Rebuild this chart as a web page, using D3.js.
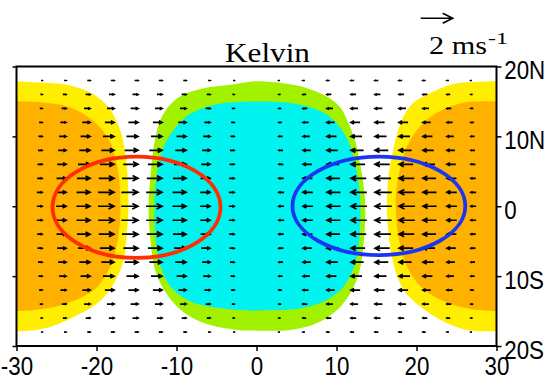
<!DOCTYPE html>
<html>
<head>
<meta charset="utf-8">
<script src="https://cdn.jsdelivr.net/npm/d3@7"></script>
<style>
  body { margin: 0; background: #fff; }
  svg { display: block; }
  .ax text { font-family: "Liberation Sans", Arial, sans-serif; font-size: 26px; fill: #000; }
  .ax line { stroke: #000; stroke-width: 1.5; }
  .ax path { display: none; }
</style>
</head>
<body>
<svg id="chart" width="552" height="382"></svg>
<script>
// grid of the wind field (deg)
const lons = [-27, -24, -21, -18, -15, -12, -9, -6, -3, 0, 3, 6, 9, 12, 15, 18, 21, 24, 27];
const lats = [18, 16, 14, 12, 10, 8, 6, 4, 2, 0, -2, -4, -6, -8, -10, -12, -14, -16, -18];

// zonal wind u (m/s), one row per latitude
const U = [
  [0.06, 0.12, 0.17, 0.20, 0.21, 0.20, 0.17, 0.12, 0.06, 0, -0.06, -0.12, -0.17, -0.20, -0.21, -0.20, -0.17, -0.12, -0.06],
  [0.10, 0.20, 0.27, 0.32, 0.34, 0.32, 0.27, 0.20, 0.10, 0, -0.10, -0.20, -0.27, -0.32, -0.34, -0.32, -0.27, -0.20, -0.10],
  [0.14, 0.27, 0.37, 0.44, 0.46, 0.44, 0.37, 0.27, 0.14, 0, -0.14, -0.27, -0.37, -0.44, -0.46, -0.44, -0.37, -0.27, -0.14],
  [0.18, 0.35, 0.48, 0.57, 0.60, 0.57, 0.48, 0.35, 0.18, 0, -0.18, -0.35, -0.48, -0.57, -0.60, -0.57, -0.48, -0.35, -0.18],
  [0.22, 0.43, 0.59, 0.69, 0.72, 0.69, 0.59, 0.43, 0.22, 0, -0.22, -0.43, -0.59, -0.69, -0.72, -0.69, -0.59, -0.43, -0.22],
  [0.25, 0.49, 0.67, 0.79, 0.83, 0.79, 0.67, 0.49, 0.25, 0, -0.25, -0.49, -0.67, -0.79, -0.83, -0.79, -0.67, -0.49, -0.25],
  [0.28, 0.55, 0.75, 0.88, 0.92, 0.88, 0.75, 0.55, 0.28, 0, -0.28, -0.55, -0.75, -0.88, -0.92, -0.88, -0.75, -0.55, -0.28],
  [0.30, 0.59, 0.81, 0.95, 1.00, 0.95, 0.81, 0.59, 0.30, 0, -0.30, -0.59, -0.81, -0.95, -1.00, -0.95, -0.81, -0.59, -0.30],
  [0.32, 0.61, 0.84, 0.99, 1.04, 0.99, 0.84, 0.61, 0.32, 0, -0.32, -0.61, -0.84, -0.99, -1.04, -0.99, -0.84, -0.61, -0.32],
  [0.32, 0.62, 0.85, 1.00, 1.05, 1.00, 0.85, 0.62, 0.32, 0, -0.32, -0.62, -0.85, -1.00, -1.05, -1.00, -0.85, -0.62, -0.32],
  [0.32, 0.61, 0.84, 0.99, 1.04, 0.99, 0.84, 0.61, 0.32, 0, -0.32, -0.61, -0.84, -0.99, -1.04, -0.99, -0.84, -0.61, -0.32],
  [0.30, 0.59, 0.81, 0.95, 1.00, 0.95, 0.81, 0.59, 0.30, 0, -0.30, -0.59, -0.81, -0.95, -1.00, -0.95, -0.81, -0.59, -0.30],
  [0.28, 0.55, 0.75, 0.88, 0.92, 0.88, 0.75, 0.55, 0.28, 0, -0.28, -0.55, -0.75, -0.88, -0.92, -0.88, -0.75, -0.55, -0.28],
  [0.25, 0.49, 0.67, 0.79, 0.83, 0.79, 0.67, 0.49, 0.25, 0, -0.25, -0.49, -0.67, -0.79, -0.83, -0.79, -0.67, -0.49, -0.25],
  [0.22, 0.43, 0.59, 0.69, 0.72, 0.69, 0.59, 0.43, 0.22, 0, -0.22, -0.43, -0.59, -0.69, -0.72, -0.69, -0.59, -0.43, -0.22],
  [0.18, 0.35, 0.48, 0.57, 0.60, 0.57, 0.48, 0.35, 0.18, 0, -0.18, -0.35, -0.48, -0.57, -0.60, -0.57, -0.48, -0.35, -0.18],
  [0.14, 0.27, 0.37, 0.44, 0.46, 0.44, 0.37, 0.27, 0.14, 0, -0.14, -0.27, -0.37, -0.44, -0.46, -0.44, -0.37, -0.27, -0.14],
  [0.10, 0.20, 0.27, 0.32, 0.34, 0.32, 0.27, 0.20, 0.10, 0, -0.10, -0.20, -0.27, -0.32, -0.34, -0.32, -0.27, -0.20, -0.10],
  [0.06, 0.12, 0.17, 0.20, 0.21, 0.20, 0.17, 0.12, 0.06, 0, -0.06, -0.12, -0.17, -0.20, -0.21, -0.20, -0.17, -0.12, -0.06]
];

// shaded contour regions, outlines as [lon, lat]
const leftYellow = [[-30, 17.9], [-27, 17.7], [-23.7, 17.4], [-21.2, 16.5], [-19.5, 15.3], [-18.25, 13.8], [-17.4, 11.9],
  [-16.8, 10.0], [-16.4, 7.6], [-16.2, 5.7], [-16.05, 3], [-16.0, 0], [-16.2, -3.8], [-16.6, -7.7], [-17.4, -10.1],
  [-18.6, -12.4], [-20.5, -14.4], [-22.8, -15.8], [-25.6, -17.2], [-27.5, -17.7], [-30, -17.9]];
const leftOrange = [[-30, 15.0], [-27, 14.9], [-23.7, 14.3], [-21.2, 12.9], [-19.5, 11.2], [-18.25, 9.1], [-17.6, 6.7],
  [-17.2, 4.3], [-17.0, 0], [-17.2, -3.8], [-17.8, -7.2], [-18.7, -9.6], [-20.3, -12.0], [-23.7, -13.9], [-27.4, -14.8], [-30, -15.0]];
const rightYellow = [[30, 17.9], [27.5, 17.8], [24.25, 17.4], [21.75, 16.2], [19.6, 14.8], [18.4, 12.9], [17.6, 10.5],
  [17.0, 7.6], [16.5, 4.3], [16.3, 0], [16.5, -3.9], [17.2, -8.6], [18.4, -12], [20.5, -14.4], [23.4, -16.5], [26.3, -17.7], [30, -17.9]];
const rightOrange = [[30, 15.0], [25.9, 14.8], [22.6, 13.4], [20.5, 11.5], [18.8, 8.6], [18, 5.7], [17.5, 2.5], [17.4, 0],
  [17.8, -4.8], [18.8, -8.6], [20.5, -11.5], [23.4, -13.6], [26.75, -14.7], [30, -15.0]];
const centerGreen = [[0, 17.9], [3.4, 17.6], [6.3, 16.9], [8.8, 15.7], [10.5, 14.1], [11.5, 11.9], [12.4, 9.1], [13, 5.7],
  [13.4, 2.9], [13.6, 0], [13.4, -5.3], [12.8, -9.6], [11.75, -12.4], [10.1, -14.8], [7.6, -16.7], [4.25, -17.7], [0, -17.8],
  [-2.4, -17.7], [-5.75, -17.0], [-8.25, -15.8], [-10.3, -13.9], [-11.8, -11.5], [-12.8, -8.6], [-13.25, -4.8], [-13.5, 0],
  [-13.25, 4.3], [-13.0, 7.2], [-12.6, 10], [-12, 12.4], [-10.75, 14.6], [-9.1, 16.0], [-6.6, 16.9], [-3.25, 17.4]];
const centerCyan = [[0, 15.0], [3.4, 14.9], [6.3, 14.3], [8.8, 13.1], [10.5, 11.2], [11.75, 8.6], [12.4, 5.7], [12.8, 2.9],
  [13, 0], [12.8, -5.3], [12.2, -8.6], [10.9, -11.5], [8.8, -13.4], [5.5, -14.6], [1.3, -14.9], [-1.6, -14.9], [-5.75, -14.4],
  [-8.7, -13.4], [-10.75, -11.5], [-12, -8.6], [-12.6, -4.8], [-12.75, 0], [-12.6, 3.4], [-12.2, 6.2], [-11.6, 8.6],
  [-10.3, 11.0], [-8.7, 12.9], [-6.6, 14.1], [-3.7, 14.8]];

// ellipses: centre lon/lat, semi-axes in degrees
const ellCx = [-15, 15.3], ellCy = [-0.15, 0.05], ellRx = [10.5, 10.8], ellRy = [7.25, 7.05];
const ellColors = ["#FF2E00", "#1C35F5"];

const xTicks = [-30, -20, -10, 0, 10, 20, 30];
const yTicks = [20, 10, 0, -10, -20];
const yTickLabels = ["20N", "10N", "0", "10S", "20S"];
const refSpeed = 2;

const svg = d3.select("#chart");
const x = d3.scaleLinear().domain([-30, 30]).range([16.5, 496.5]);
const y = d3.scaleLinear().domain([-20, 20]).range([346, 66.5]);
const len = d3.scaleLinear().domain([0, 2]).range([0, 32]); // 2 m/s -> 32 px

svg.append("defs").append("clipPath").attr("id", "plot")
  .append("rect").attr("x", x(-30)).attr("y", y(20)).attr("width", x(30) - x(-30)).attr("height", y(-20) - y(20));

const G = svg.append("g").attr("clip-path", "url(#plot)");
const open = d3.line().x(d => x(d[0])).y(d => y(d[1])).curve(d3.curveCatmullRom.alpha(0.5));
const closed = d3.line().x(d => x(d[0])).y(d => y(d[1])).curve(d3.curveCatmullRomClosed.alpha(0.5));

[[leftYellow, "#FFEE00"], [leftOrange, "#FFB100"], [rightYellow, "#FFEE00"], [rightOrange, "#FFB100"]].forEach(([pts, c]) => {
  G.append("path").attr("d", open(pts) + "Z").attr("fill", c);
});
G.append("path").attr("d", closed(centerGreen)).attr("fill", "#A2F200");
G.append("path").attr("d", closed(centerCyan)).attr("fill", "#00F3EE");

function arrowPath(x0, y0, u, headLen, headHalf) {
  // head sits on the grid point (NCL "ArrowHead" position mode)
  const L = len(Math.abs(u)), s = Math.sign(u);
  const hl = headLen != null ? headLen : L * 0.34, hw = headHalf != null ? headHalf : L * 0.17;
  const tail = x0 - s * L;
  return `M${tail},${y0}L${x0},${y0}M${x0 - s * hl},${y0 - hw}L${x0},${y0}L${x0 - s * hl},${y0 + hw}`;
}

const arrows = svg.append("g").attr("clip-path", "url(#plot)");
lats.forEach((la, i) => lons.forEach((lo, j) => {
  const u = U[i][j];
  if (Math.abs(u) < 0.005) return;
  arrows.append("path").attr("d", arrowPath(x(lo) + Math.sign(u) * 1.5, y(la), u))
    .attr("fill", "none").attr("stroke", "#000").attr("stroke-width", 1.7);
}));

ellCx.forEach((cx, i) => {
  svg.append("ellipse").attr("cx", x(cx)).attr("cy", y(ellCy[i]))
    .attr("rx", x(cx + ellRx[i]) - x(cx)).attr("ry", y(ellCy[i]) - y(ellCy[i] + ellRy[i]))
    .attr("fill", "none").attr("stroke", ellColors[i]).attr("stroke-width", 3.8);
});

// frame and axes
svg.append("rect").attr("x", x(-30)).attr("y", y(20)).attr("width", x(30) - x(-30)).attr("height", y(-20) - y(20))
  .attr("fill", "none").attr("stroke", "#000").attr("stroke-width", 2);

const bx = svg.append("g").attr("class", "ax").attr("transform", `translate(0,${y(-20)})`)
  .call(d3.axisBottom(x).tickValues(xTicks).tickSize(5).tickSizeOuter(0).tickPadding(6).tickFormat(d => String(d)));
bx.selectAll("text").attr("dy", "0.71em").attr("transform", "scale(0.86,1)");

const ry = svg.append("g").attr("class", "ax").attr("transform", `translate(${x(30)},0)`)
  .call(d3.axisRight(y).tickValues(yTicks).tickSize(5).tickSizeOuter(0).tickPadding(4)
    .tickFormat((d, i) => yTickLabels[i]));
ry.selectAll("text").attr("dy", "0.47em").attr("transform", "scale(0.86,1)");

svg.append("g").attr("class", "ax").attr("transform", `translate(${x(-30)},0)`)
  .call(d3.axisLeft(y).tickValues(yTicks).tickSize(4).tickSizeOuter(0).tickFormat(""));

// title and reference vector
svg.append("text").attr("x", 225).attr("y", 61.5).attr("font-family", "Liberation Serif, Times New Roman, serif")
  .attr("font-size", 28).attr("textLength", 85).attr("lengthAdjust", "spacingAndGlyphs").text("Kelvin");

const refX = 452.7, refY = 18.3;
svg.append("path").attr("d", arrowPath(refX, refY, refSpeed, 10, 5))
  .attr("fill", "none").attr("stroke", "#000").attr("stroke-width", 1.6);
svg.append("text").attr("x", 429).attr("y", 53.5).attr("font-family", "Liberation Serif, Times New Roman, serif")
  .attr("font-size", 25).attr("textLength", 58).attr("lengthAdjust", "spacingAndGlyphs").text("2 ms");
svg.append("text").attr("x", 488).attr("y", 43.5).attr("font-family", "Liberation Serif, Times New Roman, serif")
  .attr("font-size", 17).attr("textLength", 20).attr("lengthAdjust", "spacingAndGlyphs").text("-1");
</script>
</body>
</html>
